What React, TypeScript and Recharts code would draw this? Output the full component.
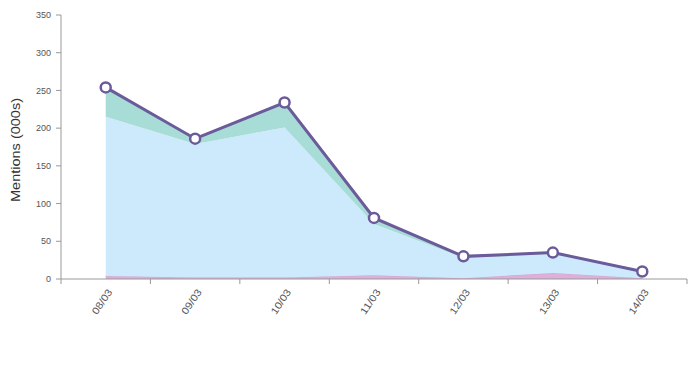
import React from 'react';
import { ComposedChart, Area, Line, XAxis, YAxis, Label } from 'recharts';

const categories = ['08/03', '09/03', '10/03', '11/03', '12/03', '13/03', '14/03'];
const pinkSeries = [4, 2, 2, 5, 1, 8, 1];
const blueSeries = [211, 177, 199, 68, 27, 25, 8];
const tealSeries = [39, 7, 33, 8, 2, 2, 1];
const totalSeries = [254, 186, 234, 81, 30, 35, 10];
const yTicks = [0, 50, 100, 150, 200, 250, 300, 350];

const data = categories.map((c, i) => ({
  idx: i,
  label: c,
  pink: pinkSeries[i],
  blue: blueSeries[i],
  teal: tealSeries[i],
  total: totalSeries[i],
}));

const xTicks: number[] = [];
for (let i = 0; i <= categories.length; i++) {
  xTicks.push(i - 0.5);
  if (i < categories.length) xTicks.push(i);
}

const FONT = 'Liberation Sans, Arial, sans-serif';

const XTick = (props: any) => {
  const { x, y, payload } = props;
  const v = payload.value;
  if (!Number.isInteger(v)) {
    return <line x1={x} x2={x} y1={y} y2={y + 5} stroke="#999" strokeWidth={1} />;
  }
  const ax = x + 7;
  const ay = y + 13;
  return (
    <text
      x={ax}
      y={ay}
      transform={`rotate(-56, ${ax}, ${ay})`}
      textAnchor="end"
      fontSize={10}
      fill="#555"
      fontFamily={FONT}
      textLength={28}
      lengthAdjust="spacingAndGlyphs"
    >
      {categories[v]}
    </text>
  );
};

export default function App() {
  return (
    <ComposedChart
      width={690}
      height={370}
      data={data}
      margin={{ top: 7, right: 11, bottom: 0, left: 0 }}
    >
      <XAxis
        dataKey="idx"
        type="number"
        domain={[-0.5, 6.5]}
        ticks={xTicks}
        interval={0}
        tick={<XTick />}
        tickLine={false}
        tickSize={0}
        tickMargin={0}
        axisLine={{ stroke: '#999' }}
        height={99}
        allowDecimals
      />
      <YAxis
        domain={[0, 350]}
        ticks={yTicks}
        interval={0}
        width={53}
        tickSize={5}
        tickMargin={5}
        tickLine={{ stroke: '#999' }}
        axisLine={{ stroke: '#999' }}
        tick={{ fontSize: 9, fill: '#555', fontFamily: FONT }}
      >
        <Label
          content={(p: any) => {
            const vb = p.viewBox || {};
            const cx = 8;
            const cy = (vb.y || 0) + (vb.height || 0) / 2 + 3;
            return (
              <text
                x={cx}
                y={cy}
                transform={`rotate(-90, ${cx}, ${cy})`}
                textAnchor="middle"
                dominantBaseline="central"
                fontSize={12}
                fill="#333"
                fontFamily={FONT}
                textLength={104}
                lengthAdjust="spacingAndGlyphs"
              >
                Mentions (000s)
              </text>
            );
          }}
        />
      </YAxis>
      <Area
        dataKey="pink"
        stackId="a"
        type="linear"
        fill="#dcb0d8"
        fillOpacity={1}
        stroke="#d4a3cf"
        strokeWidth={1}
        isAnimationActive={false}
      />
      <Area
        dataKey="blue"
        stackId="a"
        type="linear"
        fill="#cdeafc"
        fillOpacity={1}
        stroke="none"
        isAnimationActive={false}
      />
      <Area
        dataKey="teal"
        stackId="a"
        type="linear"
        fill="#a8dcd6"
        fillOpacity={1}
        stroke="none"
        isAnimationActive={false}
      />
      <Line
        dataKey="total"
        type="linear"
        stroke="#6b5b9a"
        strokeWidth={3}
        dot={{ r: 5, fill: '#fff', stroke: '#6b5b9a', strokeWidth: 2.5 }}
        isAnimationActive={false}
      />
    </ComposedChart>
  );
}
